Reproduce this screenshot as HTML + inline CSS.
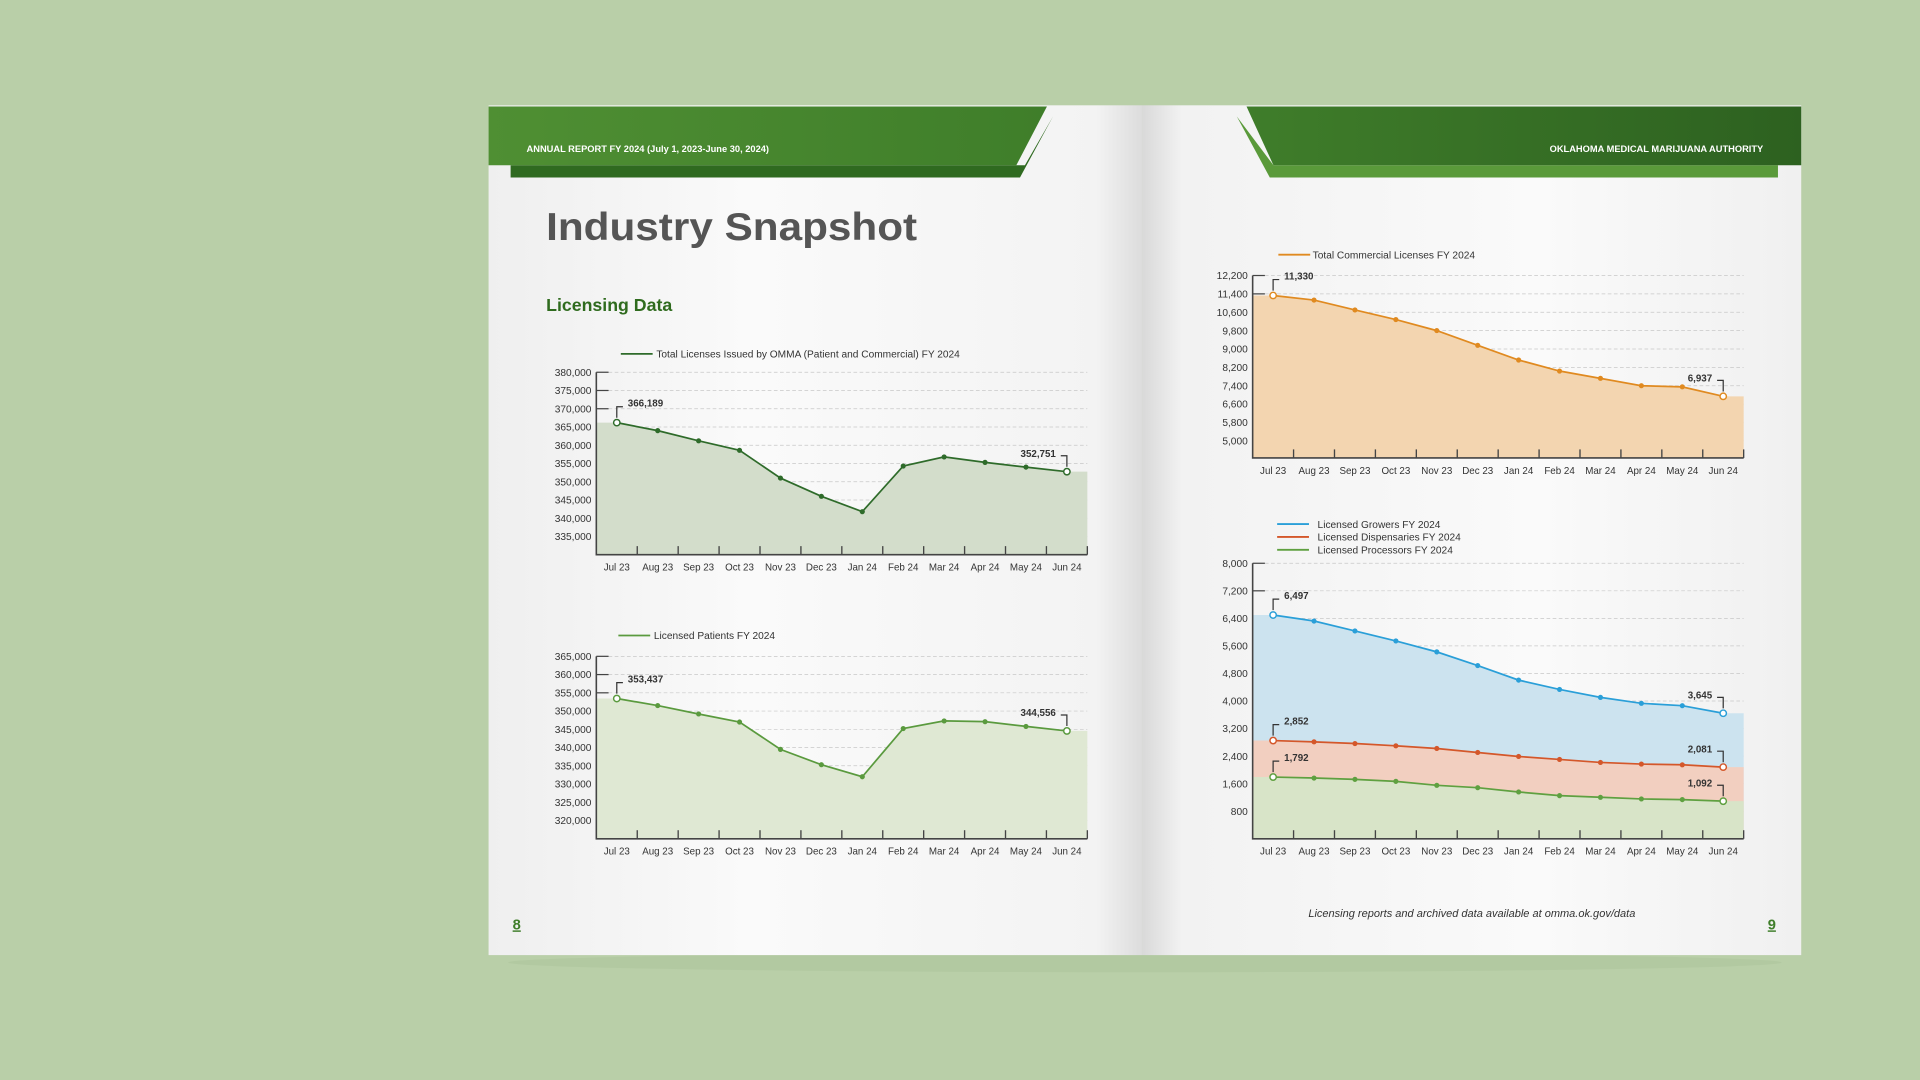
<!DOCTYPE html>
<html><head><meta charset="utf-8">
<style>
html,body{margin:0;padding:0;width:1920px;height:1080px;overflow:hidden;background:#b9cfa8;}
svg{display:block;font-family:"Liberation Sans",sans-serif;}
</style></head>
<body>
<svg id="root" width="1920" height="1080" viewBox="0 0 1568 882" xmlns="http://www.w3.org/2000/svg">
<defs>
<linearGradient id="pgL" x1="0" x2="1" y1="0" y2="0"><stop offset="0" stop-color="#efefef"/><stop offset="0.4" stop-color="#fafafa"/><stop offset="0.93" stop-color="#f3f3f3"/><stop offset="1" stop-color="#dcdcdc"/></linearGradient>
<linearGradient id="pgR" x1="0" x2="1" y1="0" y2="0"><stop offset="0" stop-color="#d9d9d9"/><stop offset="0.06" stop-color="#f2f2f2"/><stop offset="0.6" stop-color="#fafafa"/><stop offset="1" stop-color="#f0f0f0"/></linearGradient>
<linearGradient id="hdrL" x1="0" x2="1"><stop offset="0" stop-color="#4f8f33"/><stop offset="1" stop-color="#3f7e2a"/></linearGradient>
<linearGradient id="hdrR" x1="0" x2="1"><stop offset="0" stop-color="#3f7d2a"/><stop offset="1" stop-color="#2d6120"/></linearGradient>
</defs>
<rect x="0" y="0" width="1568" height="882" fill="#b9cfa8"/>
<ellipse cx="935" cy="786" rx="520" ry="8" fill="#aec49d" opacity="0.6"/>
<rect x="399" y="86" width="534" height="694" fill="url(#pgL)"/>
<rect x="933" y="86" width="538" height="694" fill="url(#pgR)"/>
<!-- headers -->
<polygon points="417,135 837,135 860,95 833,145 417,145" fill="#2f6a20"/>
<polygon points="399,87 855,87 830,135 399,135" fill="url(#hdrL)"/>
<text x="430" y="124" font-size="7.6" font-weight="bold" fill="#fff">ANNUAL REPORT FY 2024 (July 1, 2023-June 30, 2024)</text>
<polygon points="1010,95 1037,145 1452,145 1452,135 1040,135" fill="#5a9a3a"/>
<polygon points="1018,87 1471,87 1471,135 1040,135" fill="url(#hdrR)"/>
<text x="1440" y="124" font-size="7.6" font-weight="bold" fill="#fff" text-anchor="end">OKLAHOMA MEDICAL MARIJUANA AUTHORITY</text>
<text x="446" y="196" font-size="32" font-weight="bold" fill="#555" textLength="303" lengthAdjust="spacingAndGlyphs">Industry Snapshot</text>
<text x="446" y="254" font-size="14" font-weight="bold" fill="#2f6b1e" textLength="103" lengthAdjust="spacingAndGlyphs">Licensing Data</text>
<text x="422" y="759" font-size="12" font-weight="bold" fill="#3f7e2a" text-anchor="middle" text-decoration="underline">8</text>
<text x="1447" y="759" font-size="12" font-weight="bold" fill="#3f7e2a" text-anchor="middle" text-decoration="underline">9</text>
<text x="1202" y="749" font-size="9" font-style="italic" fill="#333" text-anchor="middle">Licensing reports and archived data available at omma.ok.gov/data</text>
<g id="charts"></g>
</svg>
<script>
const categories = ["Jul 23","Aug 23","Sep 23","Oct 23","Nov 23","Dec 23","Jan 24","Feb 24","Mar 24","Apr 24","May 24","Jun 24"];
const totalLicenses = [366189,364000,361200,358600,351000,346000,341800,354300,356800,355300,354000,352751];
const totalTicks = [380000,375000,370000,365000,360000,355000,350000,345000,340000,335000];
const patients = [353437,351500,349200,347000,339500,335300,332000,345200,347300,347100,345800,344556];
const patientTicks = [365000,360000,355000,350000,345000,340000,335000,330000,325000,320000];
const commercial = [11330,11130,10700,10280,9800,9160,8520,8040,7720,7400,7350,6937];
const commercialTicks = [12200,11400,10600,9800,9000,8200,7400,6600,5800,5000];
const growers = [6497,6323,6034,5745,5427,5031,4607,4337,4106,3933,3865,3645];
const dispensaries = [2852,2814,2766,2699,2622,2506,2390,2304,2217,2169,2149,2081];
const processors = [1792,1764,1725,1667,1552,1484,1359,1253,1205,1157,1137,1092];
const multiTicks = [8000,7200,6400,5600,4800,4000,3200,2400,1600,800];

const NS = "http://www.w3.org/2000/svg";
const root = document.getElementById("charts");
function mk(tag, attrs, parent){const e=document.createElementNS(NS,tag);for(const k in attrs)e.setAttribute(k,attrs[k]);(parent||root).appendChild(e);return e;}
function fmt(v){return v.toLocaleString("en-US");}

function chart(cfg){
  const g = mk("g",{});
  
  
  const L=cfg.left,R=cfg.right,T=cfg.top,B=cfg.bottom;
  const y = v => B - (v-cfg.min)/(cfg.max-cfg.min)*(B-T);
  const step=(R-L)/categories.length;
  const x = i => L + step*(i+0.5);
  cfg.ticks.forEach(t=>{
    const gl=mk("line",{x1:L+10,x2:R,y1:y(t),y2:y(t),stroke:"#c8c8c8","stroke-width":0.6,"stroke-dasharray":"3,2"},g);
    
    
    mk("line",{x1:L,x2:L+10,y1:y(t),y2:y(t),stroke:"#444","stroke-width":1},g);
    const tl=mk("text",{x:L-4,y:y(t)+3,"font-size":8.3,fill:"#333","text-anchor":"end"},g);
    tl.textContent=fmt(t);
    
    
  });
  cfg.series.forEach(s=>{
    let d=`M${L},${B} L${L},${y(s.data[0])}`;
    s.data.forEach((v,i)=>{d+=` L${x(i)},${y(v)}`;});
    d+=` L${R},${y(s.data[s.data.length-1])} L${R},${B} Z`;
    const a=mk("path",{d:d,fill:s.fill},g);
    
    
  });
  cfg.series.forEach(s=>{
    const pts=s.data.map((v,i)=>x(i)+","+y(v)).join(" ");
    const ln=mk("polyline",{points:pts,fill:"none",stroke:s.color,"stroke-width":1.4},g);
    
    
    s.data.forEach((v,i)=>{
      const last=i===s.data.length-1;
      const open=i===0||last;
      const c=mk("circle",{cx:x(i),cy:y(v),r:open?2.6:2.1,fill:open?"#fff":s.color,stroke:s.color,"stroke-width":open?1.2:0},g);
      
      
      if(i===0){
        const px=x(i),py=y(v);
        mk("polyline",{points:`${px},${py-4} ${px},${py-13} ${px+5},${py-13}`,fill:"none",stroke:"#333","stroke-width":1},g);
        const t=mk("text",{x:px+9,y:py-13,"font-size":8,"font-weight":"bold",fill:"#333"},g);
        t.textContent=fmt(v);
        
        
      }
      if(last){
        const px=x(i),py=y(v);
        mk("polyline",{points:`${px-5},${py-13} ${px},${py-13} ${px},${py-4}`,fill:"none",stroke:"#333","stroke-width":1},g);
        const t=mk("text",{x:px-9,y:py-12,"font-size":8,"font-weight":"bold",fill:"#333","text-anchor":"end"},g);
        t.textContent=fmt(v);
        
        
      }
    });
  });
  const ax=mk("polyline",{points:`${L},${T} ${L},${B} ${R},${B}`,fill:"none",stroke:"#444","stroke-width":1.3},g);
  
  
  for(let i=1;i<=categories.length;i++){
    mk("line",{x1:L+step*i,x2:L+step*i,y1:B,y2:B-7,stroke:"#444","stroke-width":1.1},g);
  }
  categories.forEach((c,i)=>{
    const t=mk("text",{x:x(i),y:B+13,"font-size":8,fill:"#333","text-anchor":"middle"},g);
    t.textContent=c;
    
    
  });
  cfg.series.forEach((s,k)=>{
    const ly=cfg.legY+k*10.5;
    const l=mk("line",{x1:cfg.legX,x2:cfg.legX+26,y1:ly,y2:ly,stroke:s.color,"stroke-width":1.5},g);
    
    
    const t=mk("text",{x:cfg.legX+cfg.legGap,y:ly+3,"font-size":8.3,fill:"#333"},g);
    t.textContent=s.label;
    
    
  });
}

chart({name:"total-licenses-chart",left:487,right:888,top:304,bottom:453,min:330000,max:380000,ticks:totalTicks,legX:507,legY:289,legGap:29,
  series:[{key:"total",data:totalLicenses,color:"#2e6b2a",fill:"#d3ddcb",label:"Total Licenses Issued by OMMA (Patient and Commercial) FY 2024"}]});
chart({name:"patients-chart",left:487,right:888,top:536,bottom:685,min:315000,max:365000,ticks:patientTicks,legX:505,legY:519,legGap:29,
  series:[{key:"patients",data:patients,color:"#5a9a3e",fill:"#dfe8d3",label:"Licensed Patients FY 2024"}]});
chart({name:"commercial-chart",left:1023,right:1424,top:225,bottom:374,min:4253,max:12200,ticks:commercialTicks,legX:1044,legY:208,legGap:28,
  series:[{key:"commercial",data:commercial,color:"#e08a20",fill:"#f3d5b0",label:"Total Commercial Licenses FY 2024"}]});
chart({name:"business-types-chart",left:1023,right:1424,top:460,bottom:685,min:0,max:8000,ticks:multiTicks,legX:1043,legY:428,legGap:33,
  series:[
   {key:"growers",data:growers,color:"#2a9fd8",fill:"#cce3ef",label:"Licensed Growers FY 2024"},
   {key:"dispensaries",data:dispensaries,color:"#d4572a",fill:"#f2cfc0",label:"Licensed Dispensaries FY 2024"},
   {key:"processors",data:processors,color:"#5fa040",fill:"#d8e4c8",label:"Licensed Processors FY 2024"}]});
</script>
</body></html>
